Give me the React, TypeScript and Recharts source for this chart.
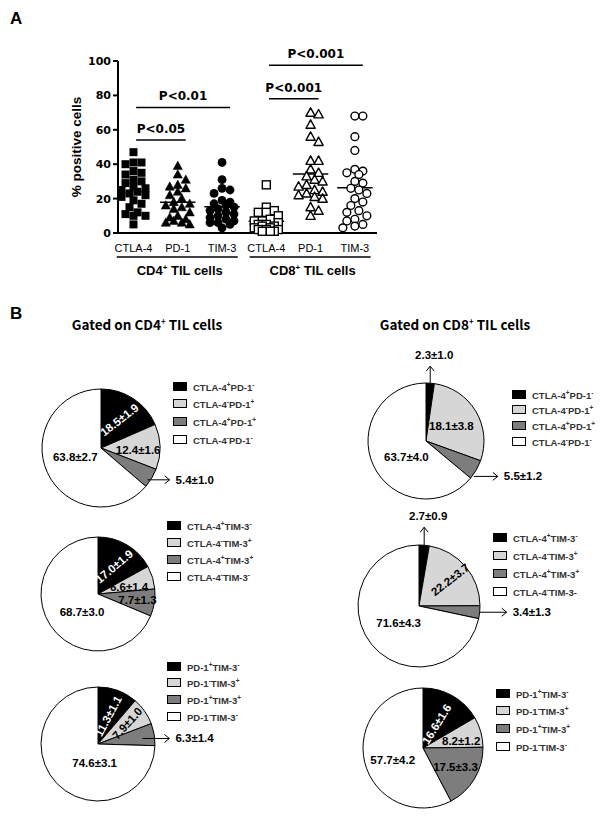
import { ScatterChart, Scatter, XAxis, YAxis, ReferenceLine, PieChart, Pie, Cell } from 'recharts';

// ---- Panel A data (% positive cells per patient) ----
const CATEGORIES = ['CTLA-4', 'PD-1', 'TIM-3', 'CTLA-4', 'PD-1', 'TIM-3'];
const GROUP_LABELS = ['CD4', 'CD8'];

const cd4Ctla4 = [47, 41, 41, 40, 36, 35, 34, 31, 30, 29, 27, 26, 25, 24, 23, 22, 21, 19, 17, 15, 12, 11, 10, 10, 5];
const cd4Pd1 = [39, 34, 31, 28, 27, 26, 24, 22, 20, 18, 17, 16, 15, 14, 12, 10, 9, 8, 7, 6, 6, 5];
const cd4Tim3 = [41, 31, 26, 25, 23, 19, 18, 17, 16, 15, 14, 13, 12, 11, 10, 9, 8, 7, 6, 6, 5, 3];
const cd8Ctla4 = [28, 15, 13, 12, 12, 10, 8, 7, 7, 6, 5, 5, 4, 4, 3, 3, 2, 2, 2, 1, 1, 1];
const cd8Pd1 = [70, 69, 63, 56, 53, 42, 42, 37, 35, 33, 31, 30, 28, 27, 25, 24, 23, 22, 21, 20, 15, 13, 10];
const cd8Tim3 = [68, 68, 56, 48, 37, 36, 35, 34, 30, 29, 26, 25, 23, 20, 18, 16, 13, 12, 10, 8, 7, 5, 4, 3];

const sigLabels = ['P<0.05', 'P<0.01', 'P<0.001', 'P<0.001'];
const sigFrom = [0, 0, 3, 3];
const sigTo = [1, 2, 4, 5];
const sigHeight = [54, 73, 78, 97.5];

// ---- Panel B data (mean % of gated cells) ----
const cd4CtlaPd1Values = [18.5, 12.4, 5.4, 63.8];
const cd4CtlaPd1Labels = ['18.5±1.9', '12.4±1.6', '5.4±1.0', '63.8±2.7'];
// light slice is drawn at ~28% in the figure although it is printed 18.1
const cd8CtlaPd1Values = [2.3, 28.1, 5.5, 63.7];
const cd8CtlaPd1Labels = ['2.3±1.0', '18.1±3.8', '5.5±1.2', '63.7±4.0'];
const cd4CtlaTim3Values = [17.0, 6.6, 7.7, 68.7];
const cd4CtlaTim3Labels = ['17.0±1.9', '6.6±1.4', '7.7±1.3', '68.7±3.0'];
const cd8CtlaTim3Values = [2.7, 22.2, 3.4, 71.6];
const cd8CtlaTim3Labels = ['2.7±0.9', '22.2±3.7', '3.4±1.3', '71.6±4.3'];
const cd4Pd1Tim3Values = [11.3, 7.9, 6.3, 74.6];
const cd4Pd1Tim3Labels = ['11.3±1.1', '7.9±1.0', '6.3±1.4', '74.6±3.1'];
const cd8Pd1Tim3Values = [16.6, 8.2, 17.5, 57.7];
const cd8Pd1Tim3Labels = ['16.6±1.6', '8.2±1.2', '17.5±3.3', '57.7±4.2'];

const ctlaPd1Names = [
  [['CTLA-4', '+'], ['PD-1', '-']],
  [['CTLA-4', '-'], ['PD-1', '+']],
  [['CTLA-4', '+'], ['PD-1', '+']],
  [['CTLA-4', '-'], ['PD-1', '-']],
];
const ctlaTim3Names = [
  [['CTLA-4', '+'], ['TIM-3', '-']],
  [['CTLA-4', '-'], ['TIM-3', '+']],
  [['CTLA-4', '+'], ['TIM-3', '+']],
  [['CTLA-4', '-'], ['TIM-3', '-']],
];
const ctlaTim3NamesAlt = [
  [['CTLA-4', '+'], ['TIM-3', '-']],
  [['CTLA-4', '-'], ['TIM-3', '+']],
  [['CTLA-4', '+'], ['TIM-3', '+']],
  [['CTLA-4', '-'], ['TIM-3-', '']],
];
const pd1Tim3Names = [
  [['PD-1', '+'], ['TIM-3', '-']],
  [['PD-1', '-'], ['TIM-3', '+']],
  [['PD-1', '+'], ['TIM-3', '+']],
  [['PD-1', '-'], ['TIM-3', '-']],
];

const PIE_COLORS = ['#000000', '#d6d6d6', '#7d7d7d', '#ffffff'];

const ARIAL = '"Liberation Sans", Arial, sans-serif';
const DEJAVU = '"DejaVu Sans", Verdana, sans-serif';

// ---- scatter geometry ----
const X_DOMAIN = [-0.35, 5.5];
const PLOT_W = 259;
const PLOT_H = 172;
const X_PX = PLOT_W / (X_DOMAIN[1] - X_DOMAIN[0]);
const Y_PX = PLOT_H / 100;
const STEP = 4;
const DIST = 7.4;

// simple beeswarm so that points of a column do not sit on each other
function swarm(values: number[], idx: number) {
  const placed: { x: number; y: number }[] = [];
  const out: { x: number; y: number }[] = [];
  const order = values.map((_, i) => i).sort((a, b) => values[b] - values[a]);
  for (const i of order) {
    const ypx = values[i] * Y_PX;
    let best = 0;
    let bestD = -1;
    for (const k of [0, 1, -1, 2, -2, 3, -3]) {
      const xpx = k * STEP;
      let minD = Infinity;
      for (const p of placed) minD = Math.min(minD, Math.hypot(p.x - xpx, p.y - ypx));
      if (minD >= DIST) {
        best = xpx;
        break;
      }
      if (minD > bestD) {
        bestD = minD;
        best = xpx;
      }
    }
    placed.push({ x: best, y: ypx });
    out[i] = { x: idx + best / X_PX, y: values[i] };
  }
  return out;
}

const mean = (a: number[]) => a.reduce((s, v) => s + v, 0) / a.length;

const square = (filled: boolean) => (p: any) => (
  <rect x={p.cx - 4} y={p.cy - 4} width={8} height={8}
    fill={filled ? '#000' : '#fff'} stroke="#000" strokeWidth={filled ? 0 : 1.4} />
);
const triangle = (filled: boolean) => (p: any) => (
  <polygon points={`${p.cx},${p.cy - 4.8} ${p.cx + 4.6},${p.cy + 3.6} ${p.cx - 4.6},${p.cy + 3.6}`}
    fill={filled ? '#000' : '#fff'} stroke="#000" strokeWidth={filled ? 0.5 : 1.4} strokeLinejoin="round" />
);
const circle = (filled: boolean) => (p: any) => (
  <circle cx={p.cx} cy={p.cy} r={filled ? 4.4 : 3.9}
    fill={filled ? '#000' : '#fff'} stroke="#000" strokeWidth={filled ? 0 : 1.4} />
);

const columns = [
  { values: cd4Ctla4, shape: square(true) },
  { values: cd4Pd1, shape: triangle(true) },
  { values: cd4Tim3, shape: circle(true) },
  { values: cd8Ctla4, shape: square(false) },
  { values: cd8Pd1, shape: triangle(false) },
  { values: cd8Tim3, shape: circle(false) },
];

function renderXTick(props: any) {
  const { x, y, payload } = props;
  const v = payload.value as number;
  const mid = v === 1 || v === 4;
  const g = v === 1 ? GROUP_LABELS[0] : GROUP_LABELS[1];
  return (
    <g>
      <text x={x} y={y + 19} textAnchor="middle" fontSize={11} fontFamily={ARIAL} fill="#000">
        {CATEGORIES[v]}
      </text>
      {mid && (
        <g>
          <line x1={x - 61} x2={x + 60} y1={y + 24} y2={y + 24} stroke="#000" strokeWidth={1.5} />
          <text x={x + 2} y={y + 42} textAnchor="middle" fontSize={13} fontWeight="bold" fontFamily={ARIAL} fill="#000">
            {g}
            <tspan fontSize={8} dy={-5}>+</tspan>
            <tspan dy={5}> TIL cells</tspan>
          </text>
        </g>
      )}
    </g>
  );
}

function ScatterPanel() {
  return (
    <div style={{ position: 'absolute', left: 0, top: 0 }}>
      <ScatterChart width={400} height={290} margin={{ top: 61, right: 23, bottom: 12, left: 60 }}>
        <XAxis type="number" dataKey="x" domain={X_DOMAIN} ticks={[0, 1, 2, 3, 4, 5]} height={45}
          tick={renderXTick} tickLine={false} tickSize={0} tickMargin={0}
          axisLine={{ stroke: '#000', strokeWidth: 2 }} interval={0} />
        <YAxis type="number" dataKey="y" domain={[0, 100]} ticks={[0, 20, 40, 60, 80, 100]} width={58}
          tick={{ fontSize: 11, fontWeight: 'bold', fill: '#000', fontFamily: DEJAVU }}
          tickSize={5} tickLine={{ stroke: '#000', strokeWidth: 2 }}
          axisLine={{ stroke: '#000', strokeWidth: 2 }} />
        {columns.map((c, i) => (
          <Scatter key={i} data={swarm(c.values, i)} shape={c.shape} isAnimationActive={false} />
        ))}
        {columns.map((c, i) => (
          <ReferenceLine key={'m' + i} segment={[{ x: i - 0.4, y: mean(c.values) }, { x: i + 0.4, y: mean(c.values) }]}
            stroke="#000" strokeWidth={1.5} />
        ))}
        {sigLabels.map((s, i) => (
          <ReferenceLine key={'s' + i}
            segment={[{ x: sigFrom[i] + 0.06, y: sigHeight[i] }, { x: sigTo[i] + 0.18, y: sigHeight[i] }]}
            stroke="#000" strokeWidth={1.5}
            label={{ value: s, position: 'top', offset: 7, fontSize: 12, fontWeight: 'bold', fill: '#000', fontFamily: DEJAVU }} />
        ))}
      </ScatterChart>
      <div style={{
        position: 'absolute', left: 77, top: 147, transform: 'translate(-50%, -50%) rotate(-90deg)',
        whiteSpace: 'nowrap', fontFamily: ARIAL, fontWeight: 'bold', fontSize: 13.5, lineHeight: '14px',
      }}>
        % positive cells
      </div>
    </div>
  );
}

// ---- pie layout (style only) ----
type LabelCfg =
  | { t: 'in'; f: number; rot?: number; fill: string; dx?: number; dy?: number }
  | { t: 'right'; f: number; len: number; dy?: number }
  | { t: 'up'; len: number };

const PIES = [
  {
    values: cd4CtlaPd1Values, labels: cd4CtlaPd1Labels, names: ctlaPd1Names,
    cx: 101, cy: 448, r: 59, legend: { x: 173, y: 386, gap: 17.7 },
    cfg: [
      { t: 'in', f: 0.57, rot: -38, fill: '#fff' },
      { t: 'in', f: 0.63, fill: '#000', dy: 3 },
      { t: 'right', f: 0.92, len: 22, dy: 4 },
      { t: 'in', f: 0.48, fill: '#000', dy: -3 },
    ] as LabelCfg[],
  },
  {
    values: cd8CtlaPd1Values, labels: cd8CtlaPd1Labels, names: ctlaPd1Names,
    cx: 426, cy: 441, r: 58, legend: { x: 512, y: 394, gap: 15.7 },
    cfg: [
      { t: 'up', len: 17 },
      { t: 'in', f: 0.51, fill: '#000' },
      { t: 'right', f: 0.95, len: 24, dy: 8 },
      { t: 'in', f: 0.43, fill: '#000', dx: 3, dy: 5 },
    ] as LabelCfg[],
  },
  {
    values: cd4CtlaTim3Values, labels: cd4CtlaTim3Labels, names: ctlaTim3Names,
    cx: 98, cy: 594, r: 57, legend: { x: 167, y: 525, gap: 17.3 },
    cfg: [
      { t: 'in', f: 0.56, rot: -40, fill: '#fff' },
      { t: 'in', f: 0.57, fill: '#000', dy: 2 },
      { t: 'in', f: 0.7, fill: '#000' },
      { t: 'in', f: 0.42, fill: '#000', dx: 4, dy: 5 },
    ] as LabelCfg[],
  },
  {
    values: cd8CtlaTim3Values, labels: cd8CtlaTim3Labels, names: ctlaTim3NamesAlt,
    cx: 419, cy: 606, r: 61, legend: { x: 493, y: 537, gap: 18 },
    cfg: [
      { t: 'up', len: 18 },
      { t: 'in', f: 0.67, rot: -38, fill: '#000' },
      { t: 'right', f: 1.0, len: 27 },
      { t: 'in', f: 0.43, fill: '#000' },
    ] as LabelCfg[],
  },
  {
    values: cd4Pd1Tim3Values, labels: cd4Pd1Tim3Labels, names: pd1Tim3Names,
    cx: 98, cy: 744, r: 57, legend: { x: 167, y: 666, gap: 16.7 },
    cfg: [
      { t: 'in', f: 0.52, rot: -62, fill: '#fff' },
      { t: 'in', f: 0.63, rot: -48, fill: '#000' },
      { t: 'right', f: 0.79, len: 27, dy: 2 },
      { t: 'in', f: 0.35, fill: '#000', dx: 11, dy: 5 },
    ] as LabelCfg[],
  },
  {
    values: cd8Pd1Tim3Values, labels: cd8Pd1Tim3Labels, names: pd1Tim3Names,
    cx: 423, cy: 748, r: 60, legend: { x: 496, y: 693, gap: 17.7 },
    cfg: [
      { t: 'in', f: 0.46, rot: -58, fill: '#fff' },
      { t: 'in', f: 0.66, fill: '#000', dy: 4 },
      { t: 'in', f: 0.63, fill: '#000' },
      { t: 'in', f: 0.52, fill: '#000', dy: 5 },
    ] as LabelCfg[],
  },
];

const RAD = Math.PI / 180;

function PieBlock({ spec }: { spec: (typeof PIES)[number] }) {
  const data = spec.values.map((v, i) => ({ name: i, value: v }));
  const renderLabel = (p: any) => {
    const { cx, cy, midAngle, outerRadius, index } = p;
    const c = spec.cfg[index];
    const text = spec.labels[index];
    const at = (f: number) => [
      cx + outerRadius * f * Math.cos(-midAngle * RAD),
      cy + outerRadius * f * Math.sin(-midAngle * RAD),
    ];
    const common = { fontFamily: ARIAL, fontWeight: 'bold' as const, fontSize: 11.5 };
    if (c.t === 'in') {
      const [x0, y0] = at(c.f);
      const x = x0 + (c.dx || 0);
      const y = y0 + (c.dy || 0);
      return (
        <text key={index} x={x} y={y} textAnchor="middle" dominantBaseline="central" fill={c.fill}
          transform={c.rot ? `rotate(${c.rot} ${x} ${y})` : undefined} {...common}>
          {text}
        </text>
      );
    }
    if (c.t === 'right') {
      const [x0, y0] = at(c.f);
      const y = y0 + (c.dy || 0);
      const ex = x0 + c.len;
      return (
        <g key={index}>
          <line x1={x0} y1={y} x2={ex} y2={y} stroke="#000" strokeWidth={1} />
          <polyline points={`${ex - 5},${y - 4} ${ex},${y} ${ex - 5},${y + 4}`} fill="none" stroke="#000" strokeWidth={1} />
          <text x={ex + 6} y={y} dominantBaseline="central" fill="#000" {...common}>{text}</text>
        </g>
      );
    }
    const [x0, y0] = at(1);
    const ey = y0 - c.len;
    return (
      <g key={index}>
        <line x1={x0} y1={y0} x2={x0} y2={ey} stroke="#000" strokeWidth={1} />
        <polyline points={`${x0 - 4},${ey + 5} ${x0},${ey} ${x0 + 4},${ey + 5}`} fill="none" stroke="#000" strokeWidth={1} />
        <text x={x0 + 4} y={ey - 11} textAnchor="middle" dominantBaseline="central" fill="#000" {...common}>{text}</text>
      </g>
    );
  };

  return (
    <>
      <div style={{ position: 'absolute', left: spec.cx - 100, top: spec.cy - 100 }}>
        <PieChart width={260} height={200} margin={{ top: 0, right: 0, bottom: 0, left: 0 }}>
          <Pie data={data} dataKey="value" cx={100} cy={100} outerRadius={spec.r} innerRadius={0}
            startAngle={90} endAngle={-270} stroke="#000" strokeWidth={1}
            label={renderLabel} labelLine={false} isAnimationActive={false}>
            {data.map((_, i) => (
              <Cell key={i} fill={PIE_COLORS[i]} />
            ))}
          </Pie>
        </PieChart>
      </div>
      {spec.names.map((parts, i) => (
        <div key={i} style={{
          position: 'absolute', left: spec.legend.x, top: spec.legend.y + i * spec.legend.gap - 6,
          height: 12, display: 'flex', alignItems: 'center', whiteSpace: 'nowrap',
        }}>
          <div style={{ width: 14, height: 9, boxSizing: 'border-box', border: '1px solid #000', background: PIE_COLORS[i] }} />
          <span style={{ marginLeft: 6, fontFamily: ARIAL, fontWeight: 'bold', fontSize: 9.5, color: '#333', lineHeight: '12px' }}>
            {parts.map(([t, s], k) => (
              <span key={k}>
                {t}
                {s && <span style={{ fontSize: 6.5, verticalAlign: 4 }}>{s}</span>}
              </span>
            ))}
          </span>
        </div>
      ))}
    </>
  );
}

const letter = {
  position: 'absolute' as const, fontFamily: ARIAL, fontWeight: 'bold' as const, fontSize: 17, lineHeight: '17px',
};
const title = {
  position: 'absolute' as const, top: 313, transform: 'translateX(-50%)', whiteSpace: 'nowrap' as const,
  fontFamily: '"Noto Sans CJK KR", "Noto Sans", sans-serif', fontWeight: 'bold' as const, fontSize: 13.5, lineHeight: '16px',
};

export default function App() {
  return (
    <div style={{ position: 'absolute', left: 0, top: 0, width: 604, height: 819, overflow: 'hidden', background: '#fff' }}>
      <ScatterPanel />
      <div style={{ ...letter, left: 10, top: 10 }}>A</div>
      <div style={{ ...letter, left: 10, top: 305 }}>B</div>
      <div style={{ ...title, left: 147 }}>
        Gated on CD4<sup style={{ fontSize: 8 }}>+</sup> TIL cells
      </div>
      <div style={{ ...title, left: 455 }}>
        Gated on CD8<sup style={{ fontSize: 8 }}>+</sup> TIL cells
      </div>
      {PIES.map((p, i) => (
        <PieBlock key={i} spec={p} />
      ))}
    </div>
  );
}
